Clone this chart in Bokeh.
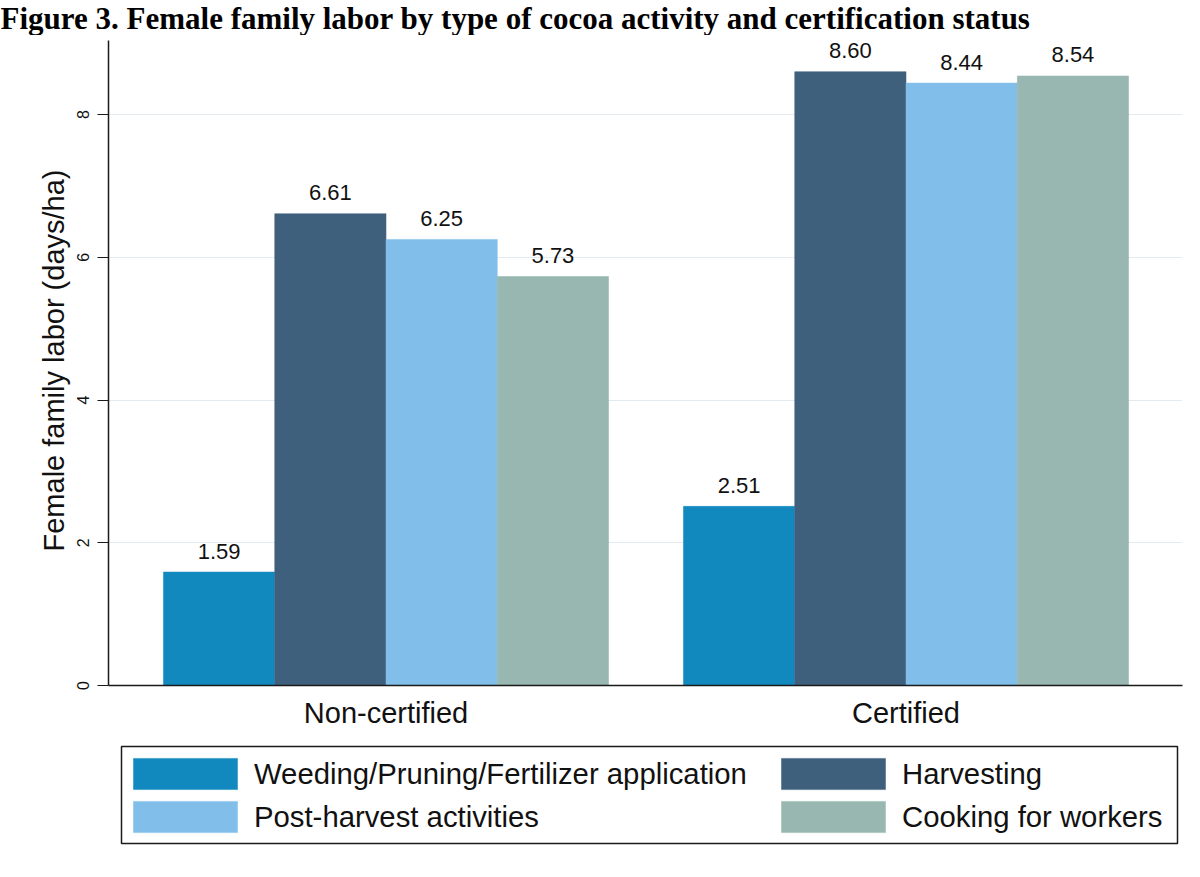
from bokeh.plotting import figure
from bokeh.layouts import column
from bokeh.models import (Range1d, FixedTicker, Legend, LegendItem, Label,
                          BoxAnnotation, ColumnDataSource)
from bokeh.core.properties import value
from bokeh.embed import file_html
from bokeh.resources import INLINE

# ---------------- data ----------------
title_text = "Figure 3. Female family labor by type of cocoa activity and certification status"
groups = ["Non-certified", "Certified"]
activities = ["Weeding/Pruning/Fertilizer application", "Harvesting",
              "Post-harvest activities", "Cooking for workers"]
weeding = [1.59, 2.51]
harvesting = [6.61, 8.60]
post_harvest = [6.25, 8.44]
cooking = [5.73, 8.54]
colors = ["#1289be", "#3e607d", "#82beea", "#98b7b1"]
y_ticks = [0, 2, 4, 6, 8]
y_label = "Female family labor (days/ha)"

W = 1200
FONT = "Liberation Sans"
series = [weeding, harvesting, post_harvest, cooking]
group_pos = [i + 1 for i in range(len(groups))]


def blank_fig(h, xr=(0, 1), yr=(0, 1)):
    f = figure(width=W, height=h, output_backend="svg", toolbar_location=None,
               x_range=Range1d(*xr), y_range=Range1d(*yr),
               min_border_left=0, min_border_right=0, min_border_top=0,
               min_border_bottom=0, frame_align=False)
    f.axis.visible = False
    f.grid.visible = False
    f.outline_line_color = None
    f.background_fill_color = "white"
    f.border_fill_color = "white"
    return f


# ---------------- title strip ----------------
TH = 35
ft = blank_fig(TH)
ft.add_layout(Label(x=0, y=TH, x_units="screen", y_units="screen",
                    text=title_text, text_baseline="top", text_align="left",
                    text_font="Liberation Serif", text_font_style="bold",
                    text_font_size="31px", text_color="#000000"))

# ---------------- main chart ----------------
LH = 136
MH = 877 - TH - LH          # 706
BOTTOM = 56                 # x axis sits at 685 px from the page top
PX_PER_UNIT = 71.375
y_top_axis = 9.037
y_top_frame = (MH - BOTTOM) / PX_PER_UNIT

p = figure(width=W, height=MH, output_backend="svg", toolbar_location=None,
           x_range=Range1d(0.4663, 2.5317), y_range=Range1d(0, y_top_frame),
           min_border_left=108, min_border_right=18, min_border_top=0,
           min_border_bottom=BOTTOM, frame_align=False)
p.outline_line_color = None
p.background_fill_color = "white"
p.border_fill_color = "white"

bw = 0.214
for i, (vals, col) in enumerate(zip(series, colors)):
    xs = [g + (i - 1.5) * bw for g in group_pos]
    src = ColumnDataSource(dict(x=xs, top=vals, lab=[f"{v:.2f}" for v in vals]))
    p.vbar(x="x", top="top", bottom=0, width=bw, source=src,
           fill_color=col, line_color=col, line_width=0.5)
    p.text(x="x", y="top", text="lab", source=src, text_align="center",
           text_baseline="alphabetic", y_offset=-21,
           text_font=value(FONT), text_font_size="22px",
           text_color="#111111")

p.xaxis.ticker = FixedTicker(ticks=group_pos)
p.xaxis.major_label_overrides = {g: name for g, name in zip(group_pos, groups)}
p.xaxis.major_tick_out = 0
p.xaxis.major_tick_in = 0
p.xaxis.minor_tick_out = 0
p.xaxis.minor_tick_in = 0
p.xaxis.major_label_standoff = 11
p.xaxis.major_label_text_font = FONT
p.xaxis.major_label_text_font_size = "29px"
p.xaxis.major_label_text_color = "#111111"

p.yaxis.ticker = FixedTicker(ticks=y_ticks)
p.yaxis.bounds = (0, y_top_axis)
p.yaxis.major_label_orientation = "vertical"
p.yaxis.major_tick_out = 11
p.yaxis.major_tick_in = 0
p.yaxis.minor_tick_out = 0
p.yaxis.minor_tick_in = 0
p.yaxis.major_label_standoff = 9
p.yaxis.major_label_text_font = FONT
p.yaxis.major_label_text_font_size = "16px"
p.yaxis.major_label_text_color = "#111111"
p.yaxis.axis_label = y_label
p.yaxis.axis_label_text_font = FONT
p.yaxis.axis_label_text_font_size = "29px"
p.yaxis.axis_label_text_font_style = "normal"
p.yaxis.axis_label_text_color = "#111111"
p.yaxis.axis_label_standoff = 4

for ax in (p.xaxis, p.yaxis):
    ax.axis_line_color = "#1a1a1a"
    ax.axis_line_width = 1.5
    ax.major_tick_line_color = "#1a1a1a"
    ax.major_tick_line_width = 1.2

p.xgrid.visible = False
p.ygrid.grid_line_color = "#e3ebf0"
p.ygrid.grid_line_width = 1.2

# ---------------- legend strip ----------------
# ranges placed far from the data so the swatch-source bars themselves stay out of view
fl = blank_fig(LH, xr=(-10, -9), yr=(-10, -9))
swatches = []
for vals, col in zip(series, colors):
    src = ColumnDataSource(dict(x=group_pos, top=vals))
    swatches.append(fl.vbar(x="x", top="top", bottom=0, width=0.1, source=src,
                            fill_color=col, line_color=col, line_width=0.5))


def make_legend(idx, x):
    lg = Legend(items=[LegendItem(label=activities[k], renderers=[swatches[k]]) for k in idx],
                location=(x, 41), orientation="vertical")
    lg.glyph_width = 130
    lg.glyph_height = 39
    lg.label_height = 39
    lg.spacing = 4
    lg.padding = 0
    lg.margin = 0
    lg.label_standoff = 4
    lg.border_line_color = None
    lg.background_fill_alpha = 0
    lg.label_text_font = FONT
    lg.label_text_font_size = "29.3px"
    lg.label_text_color = "#111111"
    return lg


fl.add_layout(make_legend([0, 2], 120), "center")
fl.add_layout(make_legend([1, 3], 768), "center")
fl.add_layout(BoxAnnotation(left=121, right=1177, top=131, bottom=34,
                            left_units="screen", right_units="screen",
                            top_units="screen", bottom_units="screen",
                            fill_alpha=0, line_color="#1a1a1a", line_alpha=1,
                            line_width=1.5))

layout = column(ft, p, fl, spacing=0)
open("out.html", "w").write(file_html(layout, INLINE))
